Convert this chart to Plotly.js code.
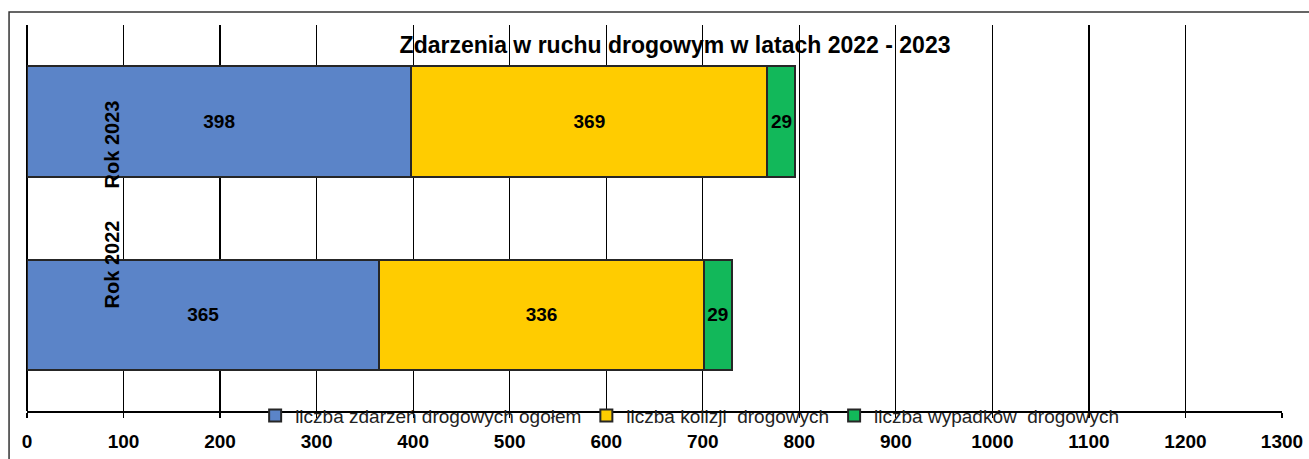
<!DOCTYPE html>
<html>
<head>
<meta charset="utf-8">
<script src="https://cdn.plot.ly/plotly-3.0.1.min.js"></script>
<style>
  body { margin: 0; background: #fff; }
  #chart { width: 1309px; height: 459px; }
</style>
</head>
<body>
<div id="chart"></div>
<script>
var years = ['Rok 2022', 'Rok 2023'];
var seriesNames = ['liczba zdarzeń drogowych ogołem', 'liczba kolizji  drogowych', 'liczba wypadków  drogowych'];
var zdarzenia = [365, 398];
var kolizje = [336, 369];
var wypadki = [29, 29];
var seriesColors = ['#5b84c8', '#ffcc00', '#12b85a'];
var xTicks = [0, 100, 200, 300, 400, 500, 600, 700, 800, 900, 1000, 1100, 1200, 1300];

var font = 'Liberation Sans, Arial, sans-serif';

function barTrace(name, values, color) {
    return {
        type: 'bar',
        orientation: 'h',
        name: name,
        y: years,
        x: values,
        text: values.map(String),
        textposition: 'inside',
        insidetextanchor: 'middle',
        textangle: 0,
        constraintext: 'none',
        textfont: { family: font, size: 19, color: '#000', weight: 'bold' },
        marker: { color: color, line: { color: '#262626', width: 2 } },
        hoverinfo: 'x+name'
    };
}

var data = [
    barTrace(seriesNames[0], zdarzenia, seriesColors[0]),
    barTrace(seriesNames[1], kolizje, seriesColors[1]),
    barTrace(seriesNames[2], wypadki, seriesColors[2])
];

// category labels sit rotated inside the plot, as in the original
var yearLabels = [
    { y: years[1], yshift: -23 },
    { y: years[0], yshift: 50 }
].map(function (a) {
    return {
        xref: 'x', yref: 'y', x: 88, y: a.y, yshift: a.yshift,
        text: '<b>' + a.y + '</b>', showarrow: false, textangle: -90,
        font: { family: font, size: 20, color: '#000' }
    };
});

var layout = {
    width: 1309,
    height: 459,
    margin: { l: 27, r: 27, t: 25, b: 48 },
    paper_bgcolor: '#fff',
    plot_bgcolor: 'rgba(0,0,0,0)',
    barmode: 'stack',
    bargap: 0.43,
    showlegend: true,
    title: {
        text: '<b>Zdarzenia w ruchu drogowym w latach 2022 - 2023</b>',
        font: { family: font, size: 23, color: '#000' },
        x: 0.5157, xanchor: 'center',
        y: 0.902, yanchor: 'middle'
    },
    xaxis: {
        range: [0, 1300],
        tickvals: xTicks,
        ticktext: xTicks.map(String),
        showgrid: true,
        gridcolor: '#000',
        gridwidth: 1.3,
        zeroline: true,
        zerolinecolor: '#000',
        zerolinewidth: 1.3,
        showline: true,
        linecolor: '#000',
        linewidth: 1.5,
        ticks: 'outside',
        ticklen: 5,
        tickcolor: '#000',
        tickwidth: 1.3,
        ticklabelstandoff: 8,
        tickfont: { family: font, size: 19, color: '#000', weight: 'bold' },
        fixedrange: true
    },
    yaxis: {
        type: 'category',
        categoryorder: 'array',
        categoryarray: years,
        range: [-0.5, 1.5],
        showticklabels: false,
        showgrid: false,
        zeroline: false,
        showline: false,
        fixedrange: true
    },
    legend: {
        orientation: 'h',
        x: 0.528, xanchor: 'center',
        y: -0.012, yanchor: 'middle',
        bgcolor: 'rgba(0,0,0,0)',
        traceorder: 'normal',
        itemwidth: 30,
        font: { family: font, size: 19, color: '#222' }
    },
    annotations: yearLabels,
    shapes: [{
        type: 'rect', xref: 'paper', yref: 'paper',
        x0: -0.0143, x1: 1.05, y0: -0.3, y1: 1.0337,
        line: { color: '#333', width: 1.5 },
        fillcolor: 'rgba(0,0,0,0)',
        layer: 'below'
    }]
};

Plotly.newPlot('chart', data, layout, { displayModeBar: false, staticPlot: true });
</script>
</body>
</html>
